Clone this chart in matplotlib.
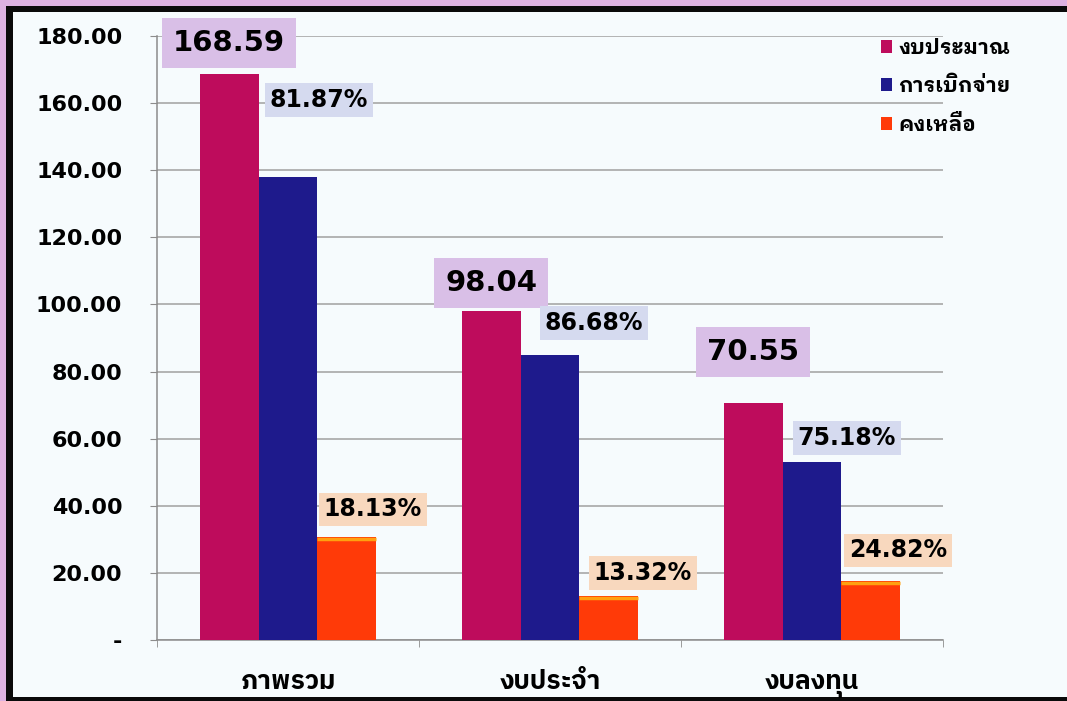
import matplotlib
matplotlib.use("Agg")
import numpy as np
import matplotlib.pyplot as plt
from matplotlib.patches import Rectangle

# data (million baht)
categories = ["ภาพรวม", "งบประจำ", "งบลงทุน"]
series_names = ["งบประมาณ", "การเบิกจ่าย", "คงเหลือ"]
budget = [168.59, 98.04, 70.55]
spent = [138.03, 84.98, 53.04]
remain = [30.56, 13.06, 17.51]
spent_pct = ["81.87%", "86.68%", "75.18%"]
remain_pct = ["18.13%", "13.32%", "24.82%"]
yticks = [0, 20, 40, 60, 80, 100, 120, 140, 160, 180]

colors = ["#BE0C5C", "#1E1A8C", "#FF3A08"]
W, H = 1067, 701

fig = plt.figure(figsize=(W / 100, H / 100), dpi=100, facecolor="#DDB2E2")
# black frame + white inner area
fig.patches.append(Rectangle((6 / W, 0), 1, 1 - 6 / H, transform=fig.transFigure,
                             facecolor="#0A0A0A", edgecolor="none", zorder=-2))
fig.patches.append(Rectangle((13 / W, 4 / H), 1, 1 - 16 / H, transform=fig.transFigure,
                             facecolor="#F6FBFD", edgecolor="none", zorder=-1))

ax = fig.add_axes([157 / W, 61 / H, (943 - 157) / W, (640 - 36) / H])
ax.set_facecolor("none")
ax.set_zorder(2)

x = np.arange(len(categories))
bw = 0.225
bars_b = ax.bar(x - bw, budget, bw, color=colors[0], label=series_names[0], zorder=3)
bars_s = ax.bar(x, spent, bw, color=colors[1], label=series_names[1], zorder=3)
bars_r = ax.bar(x + bw, remain, bw, color=colors[2], label=series_names[2], zorder=3)
# thin lighter top edge on the orange bars
for b in bars_r:
    ax.plot([b.get_x(), b.get_x() + b.get_width()], [b.get_height() - 0.4] * 2,
            color="#FFA010", lw=2.5, zorder=4, solid_capstyle="butt")

ax.set_ylim(0, 180)
ax.set_xlim(-0.5, 2.5)
ax.set_yticks(yticks)
ax.set_yticklabels(["-"] + ["%.2f" % v for v in yticks[1:]],
                   fontsize=16, fontweight="bold", family="DejaVu Sans")
ax.tick_params(axis="y", length=5, color="#8C8C8C", pad=20)
ax.yaxis.grid(True, color="#A0A0A0", lw=1.1, zorder=1)
ax.set_xticks(x)
ax.set_xticklabels(categories, fontsize=19, fontweight="bold",
                   family="IBM Plex Sans Thai", va="baseline")
ax.tick_params(axis="x", length=0, pad=35)
ax.set_xticks([-0.5, 0.5, 1.5, 2.5], minor=True)
ax.tick_params(axis="x", which="minor", length=5, color="#8C8C8C", direction="out")
for s in ["top", "right"]:
    ax.spines[s].set_visible(False)
for s in ["left", "bottom"]:
    ax.spines[s].set_color("#8C8C8C")
    ax.spines[s].set_linewidth(1.1)

# label offsets in pixels (dx, dy) from each bar top
off_b = [(0, 31), (0, 28), (0, 51)]
off_s = [(31, 77), (44, 32), (35, 24)]
off_r = [(26, 28), (34, 23), (27, 31)]

for b, v, o in zip(bars_b, budget, off_b):
    ax.annotate("%.2f" % v, (b.get_x() + b.get_width() / 2, b.get_height()),
                xytext=o, textcoords="offset pixels", ha="center", va="center",
                fontsize=21, fontweight="bold", family="DejaVu Sans", zorder=5,
                bbox=dict(boxstyle="square,pad=0.38", fc="#D9BFE7", ec="none"))
for b, t, o in zip(bars_s, spent_pct, off_s):
    ax.annotate(t, (b.get_x() + b.get_width() / 2, b.get_height()),
                xytext=o, textcoords="offset pixels", ha="center", va="center",
                fontsize=17, fontweight="bold", family="DejaVu Sans", zorder=5,
                bbox=dict(boxstyle="square,pad=0.2", fc="#D5DAEF", ec="none"))
for b, t, o in zip(bars_r, remain_pct, off_r):
    ax.annotate(t, (b.get_x() + b.get_width() / 2, b.get_height()),
                xytext=o, textcoords="offset pixels", ha="center", va="center",
                fontsize=17, fontweight="bold", family="DejaVu Sans", zorder=5,
                bbox=dict(boxstyle="square,pad=0.2", fc="#F8D8BE", ec="none"))

leg = ax.legend(loc="upper left", bbox_to_anchor=(862 / W, 1 - 20 / H),
                bbox_transform=fig.transFigure, frameon=False,
                handlelength=0.55, handleheight=0.55, handletextpad=0.3,
                labelspacing=0.9, prop={"family": "IBM Plex Sans Thai Looped",
                                        "weight": "bold", "size": 15})

fig.savefig("out.png", dpi=100, facecolor=fig.get_facecolor())
